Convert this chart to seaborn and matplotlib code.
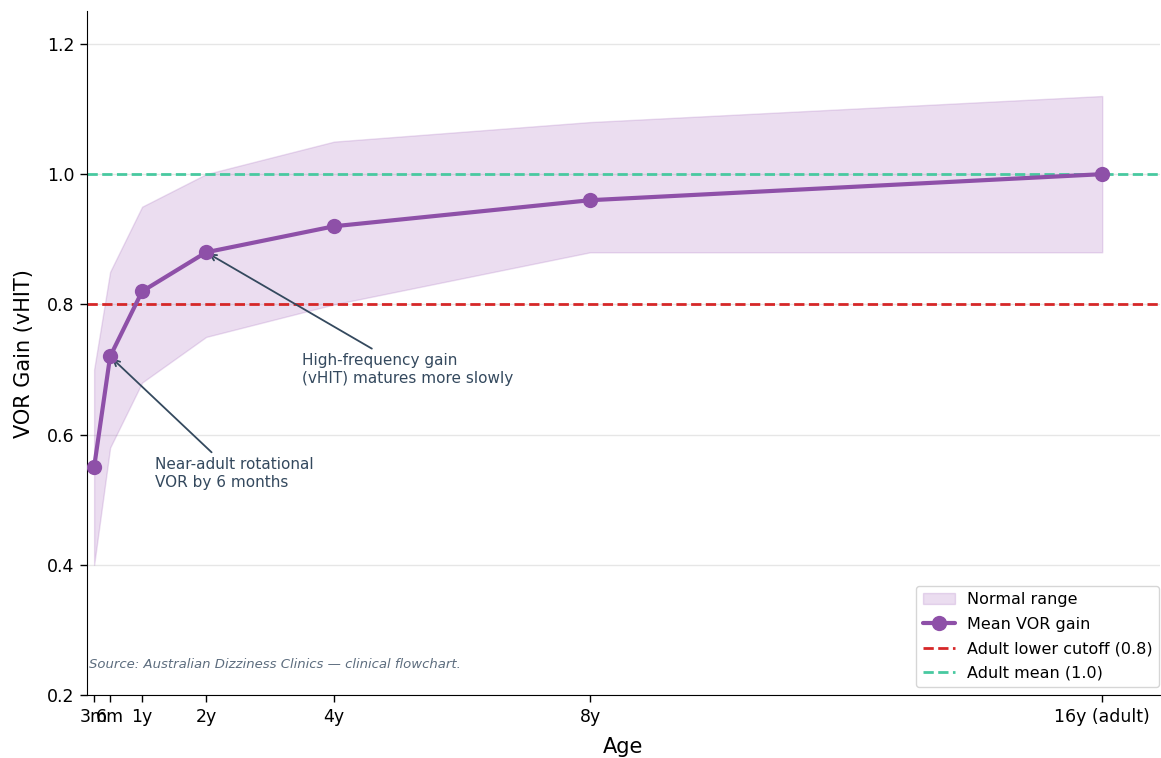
import matplotlib
matplotlib.use("Agg")
import matplotlib.pyplot as plt
import seaborn as sns
import pandas as pd

# ages in years
ages = [0.25, 0.5, 1, 2, 4, 8, 16]
age_labels = ["3m", "6m", "1y", "2y", "4y", "8y", "16y (adult)"]
mean_gain = [0.55, 0.72, 0.82, 0.88, 0.92, 0.96, 1.00]
lower_gain = [0.40, 0.58, 0.68, 0.75, 0.80, 0.88, 0.88]
upper_gain = [0.70, 0.85, 0.95, 1.00, 1.05, 1.08, 1.12]
cutoff = 0.8
adult_mean = 1.0

sns.set_style("ticks", {"axes.edgecolor": "black", "xtick.color": "black",
                        "ytick.color": "black", "text.color": "black",
                        "axes.labelcolor": "black"})
plt.rcParams['font.family'] = ['DejaVu Sans']

df = pd.DataFrame({"age": ages, "gain": mean_gain})

fig, ax = plt.subplots(figsize=(11.61, 7.58), dpi=100)
fig.subplots_adjust(left=0.075, right=0.999, top=0.985, bottom=0.083)

ax.fill_between(ages, lower_gain, upper_gain, color="#9b59b6", alpha=0.2,
                label="Normal range", zorder=1)
sns.lineplot(data=df, x="age", y="gain", ax=ax, color="#8e50a8", linewidth=3,
             marker="o", markersize=11, markeredgewidth=0, label="Mean VOR gain",
             zorder=4)
ax.axhline(cutoff, color="#d62728", linestyle="--", linewidth=2,
           label="Adult lower cutoff (0.8)", zorder=2)
ax.axhline(adult_mean, color="#48c9a0", linestyle="--", linewidth=2,
           label="Adult mean (1.0)", zorder=2)

ax.annotate("Near-adult rotational\nVOR by 6 months", xy=(0.5, 0.72),
            xytext=(1.2, 0.54), ha="left", va="center", fontsize=11,
            color="#34495e",
            arrowprops=dict(arrowstyle="->", color="#34495e", lw=1.3))
ax.annotate("High-frequency gain\n(vHIT) matures more slowly", xy=(2, 0.88),
            xytext=(3.5, 0.70), ha="left", va="center", fontsize=11,
            color="#34495e",
            arrowprops=dict(arrowstyle="->", color="#34495e", lw=1.3))

ax.text(0.002, 0.04, "Source: Australian Dizziness Clinics \u2014 clinical flowchart.",
        transform=ax.transAxes, fontsize=9.5, style="italic", color="#5d6d7e")

ax.set_xticks(ages)
ax.set_xticklabels(age_labels, fontsize=12.5)
ax.set_yticks([0.2, 0.4, 0.6, 0.8, 1.0, 1.2])
ax.tick_params(axis="y", labelsize=12.5)
ax.tick_params(length=5, width=1, pad=4)
ax.set_xlim(0.14, 16.9)
ax.set_ylim(0.2, 1.25)
ax.yaxis.grid(True, color="#e6e6e6", linewidth=1)
ax.set_axisbelow(True)
ax.set_xlabel("Age", fontsize=15, labelpad=8)
ax.set_ylabel("VOR Gain (vHIT)", fontsize=15, labelpad=9)
sns.despine(ax=ax)

ax.legend(loc="lower right", fontsize=11.5, frameon=True, labelspacing=0.6,
          bbox_to_anchor=(1.007, 0.0), borderaxespad=0.5)

fig.savefig("out.png", dpi=100)
